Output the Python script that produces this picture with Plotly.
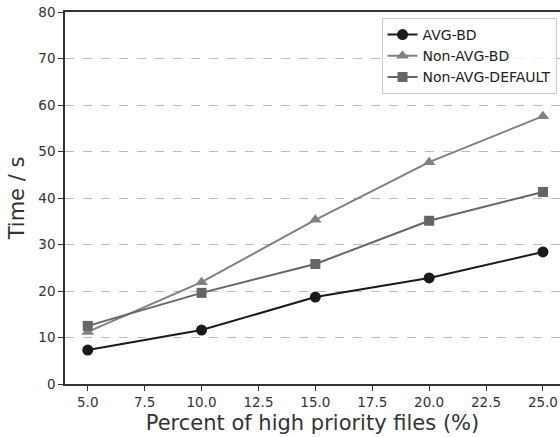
import plotly.graph_objects as go

x_vals = [5.0, 10.0, 15.0, 20.0, 25.0]
avg_bd = [7.3, 11.6, 18.7, 22.8, 28.4]
non_avg_bd = [11.2, 21.9, 35.3, 47.7, 57.6]
non_avg_default = [12.5, 19.6, 25.8, 35.1, 41.3]
x_ticks = [5.0, 7.5, 10.0, 12.5, 15.0, 17.5, 20.0, 22.5, 25.0]

fig = go.Figure()
fig.add_trace(go.Scatter(x=x_vals, y=avg_bd, name="AVG-BD", mode="lines+markers",
                         line=dict(color="#1a1a1a", width=2),
                         marker=dict(symbol="circle", size=11, color="#1a1a1a")))
fig.add_trace(go.Scatter(x=x_vals, y=non_avg_bd, name="Non-AVG-BD", mode="lines+markers",
                         line=dict(color="#808080", width=2),
                         marker=dict(symbol="triangle-up", size=11, color="#808080")))
fig.add_trace(go.Scatter(x=x_vals, y=non_avg_default, name="Non-AVG-DEFAULT", mode="lines+markers",
                         line=dict(color="#666666", width=2),
                         marker=dict(symbol="square", size=10, color="#666666")))

fig.update_layout(
    width=560, height=437,
    margin=dict(l=65, r=0, t=12, b=53),
    paper_bgcolor="white", plot_bgcolor="white",
    font=dict(family="DejaVu Sans", color="#333333"),
    showlegend=True,
    legend=dict(x=0.993, y=0.984, xanchor="right", yanchor="top",
                bordercolor="#cccccc", borderwidth=1, bgcolor="rgba(255,255,255,0.8)",
                font=dict(size=14, color="#222222"), tracegroupgap=0),
    xaxis=dict(range=[4, 25.75], tickvals=x_ticks, ticktext=[f"{v:.1f}" for v in x_ticks],
               showgrid=False, zeroline=False, showline=True, linecolor="#333333", linewidth=1.5,
               mirror=True, ticks="outside", ticklen=5, tickcolor="#333333",
               tickfont=dict(size=13.5, color="#333333"),
               title=dict(text="Percent of high priority files (%)", font=dict(size=21, color="#333333"), standoff=6)),
    yaxis=dict(range=[0, 80], dtick=10, showgrid=True, gridcolor="#bbbbbb", griddash="dash", gridwidth=1,
               zeroline=False, showline=True, linecolor="#333333", linewidth=1.5,
               ticks="outside", ticklen=5, tickcolor="#333333",
               tickfont=dict(size=13.5, color="#333333"),
               title=dict(text="Time / s", font=dict(size=21, color="#333333"), standoff=8)),
)

fig.write_html("out.html")
